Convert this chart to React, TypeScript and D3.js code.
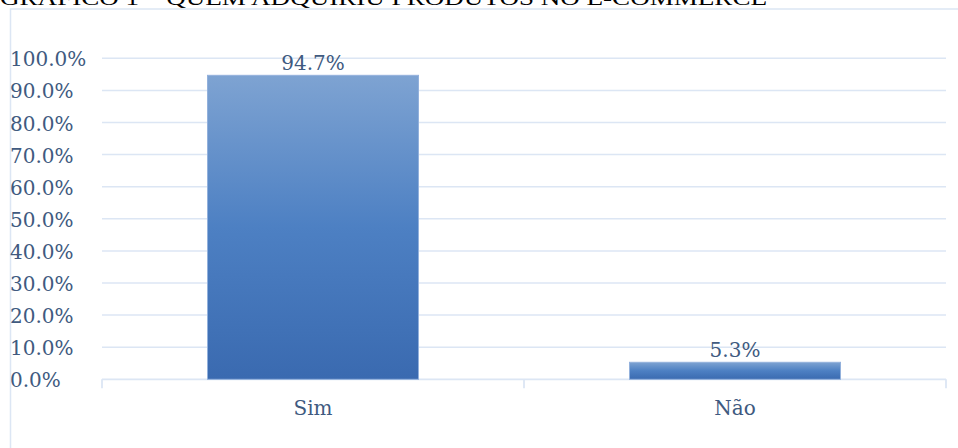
import React from "react";
import * as d3 from "d3";

const categories = ["Sim", "Não"];
const values = [94.7, 5.3];
const valueLabels = ["94.7%", "5.3%"];
const yTicks = [0, 10, 20, 30, 40, 50, 60, 70, 80, 90, 100];
const title = "GRÁFICO 1 – QUEM ADQUIRIU PRODUTOS NO E-COMMERCE";

const W = 958;
const H = 448;
const plotLeft = 102;
const plotRight = 946;
const plotTop = 58.3;
const plotBottom = 379.3;

const textColor = "#405a80";
const gridColor = "#dce6f4";
const font = "'DejaVu Serif', serif";

export default function App() {
  const x = d3.scaleBand<string>().domain(categories).range([plotLeft, plotRight]).paddingInner(0.5).paddingOuter(0.25);
  const y = d3.scaleLinear().domain([0, 100]).range([plotBottom, plotTop]);
  const band = d3.scaleBand<string>().domain(categories).range([plotLeft, plotRight]);
  const tickXs = [plotLeft, ...categories.map((c) => (band(c) as number) + band.bandwidth())];

  return (
    <svg width={W} height={H} style={{ position: "absolute", left: 0, top: 0, background: "#fff" }}>
      <defs>
        <linearGradient id="barGrad" x1="0" y1="0" x2="0" y2="1">
          <stop offset="0%" stopColor="#7ea3d2" />
          <stop offset="50%" stopColor="#4d80c3" />
          <stop offset="100%" stopColor="#3a6ab0" />
        </linearGradient>
      </defs>
      <text x={0} y={5} fontFamily="'Liberation Serif', 'Times New Roman', serif" fontSize={21} fill="#000" textLength={767} lengthAdjust="spacingAndGlyphs">
        {title}
      </text>
      {/* chart area border */}
      <path d={`M10.5,${H} L10.5,9 L${W},9`} fill="none" stroke={gridColor} strokeWidth={1.5} />
      {/* gridlines */}
      {yTicks.filter((t) => t > 0).map((t) => (
        <line key={t} x1={plotLeft} x2={plotRight} y1={y(t)} y2={y(t)} stroke={gridColor} strokeWidth={1.5} />
      ))}
      {/* axis */}
      <line x1={plotLeft} x2={plotRight} y1={y(0)} y2={y(0)} stroke={gridColor} strokeWidth={1.8} />
      {tickXs.map((tx, i) => (
        <line key={i} x1={tx} x2={tx} y1={y(0)} y2={y(0) + 9} stroke={gridColor} strokeWidth={1.8} />
      ))}
      {/* y labels */}
      {yTicks.map((t) => (
        <text key={t} x={10} y={y(t) + 8} fontFamily={font} fontSize={20} fill={textColor}>
          {t.toFixed(1) + "%"}
        </text>
      ))}
      {/* bars */}
      {categories.map((c, i) => (
        <rect
          key={c}
          x={x(c)}
          y={y(values[i])}
          width={x.bandwidth()}
          height={y(0) - y(values[i])}
          fill="url(#barGrad)"
          stroke="#93b1dc"
          strokeWidth={1}
        />
      ))}
      {categories.map((c, i) => (
        <text key={c + "v"} x={(x(c) as number) + x.bandwidth() / 2} y={y(values[i]) - 5.5} textAnchor="middle" fontFamily={font} fontSize={20} fill={textColor}>
          {valueLabels[i]}
        </text>
      ))}
      {categories.map((c) => (
        <text key={c + "c"} x={(x(c) as number) + x.bandwidth() / 2} y={415} textAnchor="middle" fontFamily={font} fontSize={20} fill={textColor}>
          {c}
        </text>
      ))}
    </svg>
  );
}
